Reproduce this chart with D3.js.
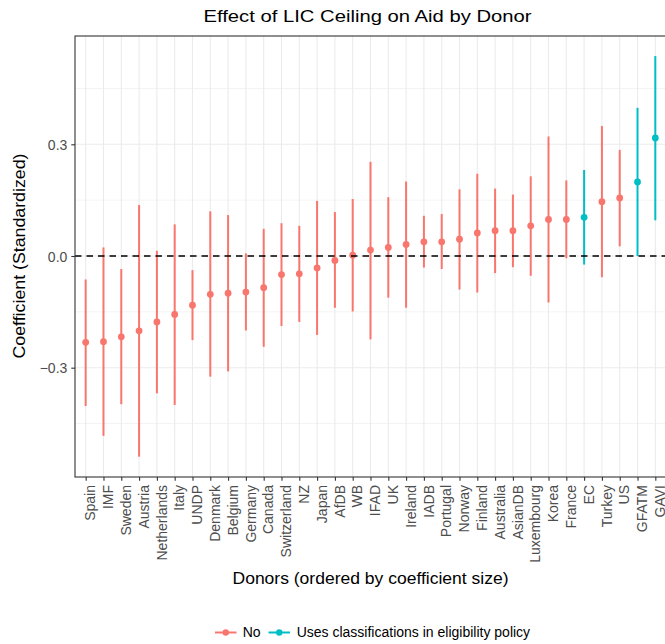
<!DOCTYPE html>
<html>
<head>
<meta charset="utf-8">
<script src="https://cdnjs.cloudflare.com/ajax/libs/d3/7.8.5/d3.min.js"></script>
<style>
  body { margin: 0; background: #fff; }
  text { font-family: "Liberation Sans", Arial, Helvetica, sans-serif; }
</style>
</head>
<body>
<script>
// Donors, ordered by coefficient size
var donors = ["Spain", "IMF", "Sweden", "Austria", "Netherlands", "Italy", "UNDP", "Denmark",
  "Belgium", "Germany", "Canada", "Switzerland", "NZ", "Japan", "AfDB", "WB", "IFAD", "UK",
  "Ireland", "IADB", "Portugal", "Norway", "Finland", "Australia", "AsianDB", "Luxembourg",
  "Korea", "France", "EC", "Turkey", "US", "GFATM", "GAVI"];

// point estimates
var estimates = [-0.232, -0.230, -0.217, -0.201, -0.177, -0.157, -0.132, -0.103,
  -0.100, -0.097, -0.085, -0.050, -0.048, -0.032, -0.012, 0.002, 0.016, 0.023,
  0.031, 0.038, 0.038, 0.045, 0.062, 0.068, 0.068, 0.081,
  0.098, 0.098, 0.104, 0.146, 0.156, 0.199, 0.317];

// lower and upper ends of the intervals
var lower = [-0.403, -0.483, -0.398, -0.539, -0.369, -0.400, -0.226, -0.324,
  -0.310, -0.200, -0.244, -0.188, -0.177, -0.212, -0.139, -0.149, -0.224, -0.112,
  -0.139, -0.031, -0.035, -0.090, -0.098, -0.046, -0.030, -0.053,
  -0.125, -0.006, -0.023, -0.057, 0.026, 0.000, 0.096];

var upper = [-0.063, 0.023, -0.035, 0.137, 0.014, 0.085, -0.038, 0.120,
  0.110, 0.007, 0.073, 0.088, 0.081, 0.148, 0.118, 0.153, 0.253, 0.158,
  0.200, 0.108, 0.113, 0.179, 0.221, 0.181, 0.165, 0.214,
  0.321, 0.203, 0.231, 0.349, 0.285, 0.398, 0.537];

// does the donor use income classifications in its eligibility policy?
var usesPolicy = ["EC", "GFATM", "GAVI"];

var groups = ["No", "Uses classifications in eligibility policy"];
var groupColors = ["#F8766D", "#00BFC4"];

var yTicks = [-0.3, 0, 0.3];
var yMinor = [-0.45, -0.15, 0.15, 0.45];

var data = donors.map(function(d, i) {
  return {
    donor: d,
    est: estimates[i],
    lo: lower[i],
    hi: upper[i],
    group: usesPolicy.indexOf(d) >= 0 ? groups[1] : groups[0]
  };
});

// Set up the dimensions of the chart
var margin = {top: 36, right: -1, bottom: 167, left: 75},
    width = 665 - margin.left - margin.right,
    height = 644 - margin.top - margin.bottom;

var svg = d3.select("body").append("svg")
    .attr("width", 665)
    .attr("height", 644);

var g = svg.append("g")
    .attr("transform", "translate(" + margin.left + "," + margin.top + ")");

// scales
var x = d3.scalePoint()
    .domain(donors)
    .range([0, width])
    .padding(0.6);

var y = d3.scaleLinear()
    .domain([-0.5936, 0.5909])
    .range([height, 0]);

var color = d3.scaleOrdinal()
    .domain(groups)
    .range(groupColors);

// grid lines
g.selectAll(".minor")
  .data(yMinor)
  .enter().append("line")
    .attr("x1", 0).attr("x2", width)
    .attr("y1", function(d) { return y(d); })
    .attr("y2", function(d) { return y(d); })
    .attr("stroke", "#ebebeb")
    .attr("stroke-width", 0.6);

g.selectAll(".major")
  .data(yTicks)
  .enter().append("line")
    .attr("x1", 0).attr("x2", width)
    .attr("y1", function(d) { return y(d); })
    .attr("y2", function(d) { return y(d); })
    .attr("stroke", "#ebebeb")
    .attr("stroke-width", 1.1);

g.selectAll(".vgrid")
  .data(donors)
  .enter().append("line")
    .attr("x1", function(d) { return x(d); })
    .attr("x2", function(d) { return x(d); })
    .attr("y1", 0).attr("y2", height)
    .attr("stroke", "#ebebeb")
    .attr("stroke-width", 1.1);

// error bars
g.selectAll(".bar")
  .data(data)
  .enter().append("line")
    .attr("x1", function(d) { return x(d.donor); })
    .attr("x2", function(d) { return x(d.donor); })
    .attr("y1", function(d) { return y(d.lo); })
    .attr("y2", function(d) { return y(d.hi); })
    .attr("stroke", function(d) { return color(d.group); })
    .attr("stroke-width", 2);

// points
g.selectAll(".pt")
  .data(data)
  .enter().append("circle")
    .attr("cx", function(d) { return x(d.donor); })
    .attr("cy", function(d) { return y(d.est); })
    .attr("r", 3.4)
    .attr("fill", function(d) { return color(d.group); });

// zero line
g.append("line")
    .attr("x1", 0).attr("x2", width)
    .attr("y1", y(0)).attr("y2", y(0))
    .attr("stroke", "#000")
    .attr("stroke-width", 1.4)
    .attr("stroke-dasharray", "6.5,5");

// panel border
g.append("rect")
    .attr("width", width)
    .attr("height", height)
    .attr("fill", "none")
    .attr("stroke", "#333333")
    .attr("stroke-width", 1.1);

// axes
var yAxis = g.append("g")
    .call(d3.axisLeft(y).tickValues(yTicks).tickSize(3.7).tickPadding(4)
      .tickFormat(function(d) { return d3.format(".1f")(d).replace("-", "\u2212"); }));
yAxis.select(".domain").remove();
yAxis.selectAll("line").attr("stroke", "#333333").attr("stroke-width", 1.1);
yAxis.selectAll("text")
    .attr("fill", "#4d4d4d")
    .style("font-size", "14px")
    .attr("dy", "0.36em");

var xAxis = g.append("g")
    .attr("transform", "translate(0," + height + ")")
    .call(d3.axisBottom(x).tickSize(3.7).tickPadding(0));
xAxis.select(".domain").remove();
xAxis.selectAll("line").attr("stroke", "#333333").attr("stroke-width", 1.1);
xAxis.selectAll("text")
    .attr("fill", "#4d4d4d")
    .style("font-size", "14px")
    .style("text-anchor", "end")
    .attr("transform", "rotate(-90)")
    .attr("x", -8)
    .attr("y", 0)
    .attr("dy", "0.66em");

// Add chart title
svg.append("text")
    .attr("x", 367.5)
    .attr("y", 22)
    .attr("text-anchor", "middle")
    .attr("textLength", 328)
    .attr("lengthAdjust", "spacingAndGlyphs")
    .style("font-size", "17px")
    .text("Effect of LIC Ceiling on Aid by Donor");

// Add x-axis label
svg.append("text")
    .attr("x", 370.5)
    .attr("y", 584)
    .attr("text-anchor", "middle")
    .attr("textLength", 276)
    .attr("lengthAdjust", "spacingAndGlyphs")
    .style("font-size", "16px")
    .text("Donors (ordered by coefficient size)");

// Add y-axis label
svg.append("text")
    .attr("transform", "translate(25,256) rotate(-90)")
    .attr("text-anchor", "middle")
    .attr("textLength", 205)
    .attr("lengthAdjust", "spacingAndGlyphs")
    .style("font-size", "16px")
    .text("Coefficient (Standardized)");

// legend
var legendItems = [
  {label: groups[0], x0: 215, textX: 242.7},
  {label: groups[1], x0: 268.5, textX: 296.7}
];
var legend = svg.append("g");
legendItems.forEach(function(item) {
  legend.append("line")
      .attr("x1", item.x0).attr("x2", item.x0 + 21.5)
      .attr("y1", 632.5).attr("y2", 632.5)
      .attr("stroke", color(item.label))
      .attr("stroke-width", 2);
  legend.append("circle")
      .attr("cx", item.x0 + 10.75)
      .attr("cy", 632.5)
      .attr("r", 3.2)
      .attr("fill", color(item.label));
  legend.append("text")
      .attr("x", item.textX)
      .attr("y", 637)
      .style("font-size", "14px")
      .text(item.label);
});
</script>
</body>
</html>
